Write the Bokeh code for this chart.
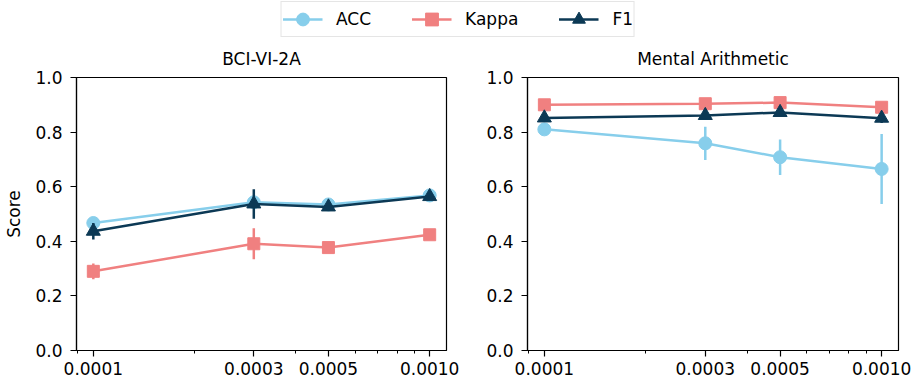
import numpy as np
from bokeh.plotting import figure
from bokeh.layouts import column, row
from bokeh.models import (Range1d, FixedTicker, NumeralTickFormatter, Legend,
                          LegendItem, ColumnDataSource)
from bokeh.embed import file_html
from bokeh.resources import INLINE

# ---------------- data ----------------
learning_rates = [0.0001, 0.0003, 0.0005, 0.0010]
minor_lr_ticks = [0.00009, 0.0002, 0.0004, 0.0006, 0.0007, 0.0008, 0.0009]
y_ticks = [0.0, 0.2, 0.4, 0.6, 0.8, 1.0]
dataset_names = ["BCI-VI-2A", "Mental Arithmetic"]
metric_names = ["ACC", "Kappa", "F1"]

bci_acc = [0.467, 0.543, 0.535, 0.568]
bci_acc_err = [0.010, 0.020, 0.010, 0.010]
bci_kappa = [0.290, 0.391, 0.377, 0.424]
bci_kappa_err = [0.029, 0.057, 0.012, 0.012]
bci_f1 = [0.437, 0.537, 0.526, 0.564]
bci_f1_err = [0.030, 0.054, 0.012, 0.010]

ma_acc = [0.810, 0.759, 0.708, 0.665]
ma_acc_err = [0.012, 0.061, 0.065, 0.128]
ma_kappa = [0.900, 0.904, 0.908, 0.891]
ma_kappa_err = [0.008, 0.008, 0.008, 0.010]
ma_f1 = [0.852, 0.861, 0.872, 0.851]
ma_f1_err = [0.010, 0.010, 0.010, 0.018]

# ---------------- styles ----------------
FONT = "DejaVu Sans"
FS = "17px"
colors = ["#87CEEB", "#F08080", "#0C3955"]
markers = ["circle", "square", "triangle"]
sizes = [13, 12, 14]
LW = 2.5
LEG_H = 38
PANEL_H = 381 - LEG_H


def make_panel(title, series, ylabel, width, b_left, b_right):
    p = figure(width=width, height=PANEL_H, x_axis_type="log",
               x_range=Range1d(10 ** -4.05, 10 ** -2.95), y_range=Range1d(0, 1),
               output_backend="svg", toolbar_location=None, title=title,
               min_border_left=b_left, min_border_right=b_right,
               min_border_top=77 - LEG_H, min_border_bottom=31)
    p.grid.visible = False
    p.outline_line_color = "black"
    p.outline_line_width = 1.2
    p.outline_line_alpha = 1.0
    p.title.text_font = FONT
    p.title.text_font_size = FS
    p.title.text_font_style = "normal"
    p.title.text_color = "black"
    p.title.align = "center"
    p.title.vertical_align = "middle"
    p.title.standoff = 16

    p.xaxis.ticker = FixedTicker(ticks=learning_rates, minor_ticks=minor_lr_ticks)
    p.xaxis.formatter = NumeralTickFormatter(format="0.0000")
    p.yaxis.ticker = FixedTicker(ticks=y_ticks, minor_ticks=[])
    p.yaxis.formatter = NumeralTickFormatter(format="0.0")
    for ax in (p.xaxis, p.yaxis):
        ax.axis_line_color = "black"
        ax.axis_line_width = 1.2
        ax.major_tick_line_color = "black"
        ax.major_tick_line_width = 1.2
        ax.major_tick_in = 0
        ax.major_tick_out = 6
        ax.minor_tick_in = 0
        ax.minor_tick_out = 3
        ax.minor_tick_line_color = "black"
        ax.minor_tick_line_width = 1.0
        ax.major_label_text_font = FONT
        ax.major_label_text_font_size = FS
        ax.major_label_text_color = "black"
    p.xaxis.major_label_standoff = 5
    p.yaxis.major_label_standoff = 8
    if ylabel:
        p.yaxis.axis_label = ylabel
        p.yaxis.axis_label_text_font = FONT
        p.yaxis.axis_label_text_font_size = FS
        p.yaxis.axis_label_text_font_style = "normal"
        p.yaxis.axis_label_text_color = "black"
        p.yaxis.axis_label_standoff = 8

    for (vals, errs), color, marker, size in zip(series, colors, markers, sizes):
        src = ColumnDataSource(dict(
            x=learning_rates, y=vals,
            lo=[v - e for v, e in zip(vals, errs)],
            hi=[v + e for v, e in zip(vals, errs)]))
        p.line("x", "y", source=src, line_color=color, line_width=LW)
        p.segment("x", "lo", "x", "hi", source=src, line_color=color, line_width=LW)
        p.scatter("x", "y", source=src, marker=marker, size=size,
                  fill_color=color, line_color=color)
    return p


bci_series = [(bci_acc, bci_acc_err), (bci_kappa, bci_kappa_err), (bci_f1, bci_f1_err)]
ma_series = [(ma_acc, ma_acc_err), (ma_kappa, ma_kappa_err), (ma_f1, ma_f1_err)]

left = make_panel(dataset_names[0], bci_series, "Score", 470, 76, 24)
right = make_panel(dataset_names[1], ma_series, None, 445, 57, 17)

# ---------------- legend strip ----------------
# proxy renderers use the real series but sit outside this strip's y-range
leg = figure(width=915, height=LEG_H, x_range=Range1d(0, 1), y_range=Range1d(10, 11),
             output_backend="svg", toolbar_location=None, min_border=0,
             x_axis_location=None, y_axis_location=None, outline_line_color=None)
leg.grid.visible = False
items = []
for name, (vals, _), color, marker in zip(metric_names, bci_series, colors, markers):
    r1 = leg.line(x=learning_rates, y=vals, line_color=color, line_width=LW)
    r2 = leg.scatter(x=learning_rates, y=vals, marker=marker,
                     fill_color=color, line_color=color)
    items.append(LegendItem(label=name, renderers=[r1, r2]))
legend = Legend(items=items, orientation="horizontal", location="bottom_center",
                label_text_font=FONT, label_text_font_size=FS,
                label_text_color="black",
                glyph_width=40, glyph_height=32, label_height=20,
                label_standoff=14, spacing=40, padding=1, margin=1,
                border_line_color="#cccccc", border_line_width=1.2,
                background_fill_color="white", background_fill_alpha=1.0)
leg.add_layout(legend)

layout = column(leg, row(left, right))
open("out.html", "w").write(file_html(layout, INLINE))
